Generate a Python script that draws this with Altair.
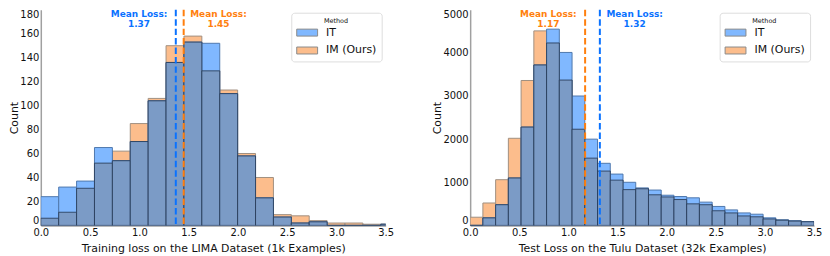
import altair as alt
import pandas as pd

# ---------------- data ----------------
METHODS = ["IT", "IM (Ours)"]
X_TICKS = [0.0, 0.5, 1.0, 1.5, 2.0, 2.5, 3.0, 3.5]

LEFT_BIN_WIDTH = 0.1816
LEFT_IT = [24, 32, 37, 65, 54, 70, 104, 136, 153, 152, 110, 58, 23, 7, 2, 3, 0, 0, 0, 1]
LEFT_IM = [6, 11, 31, 52, 62, 85, 106, 150, 158, 129, 113, 60, 40, 9, 8, 4, 2, 2, 1, 1]
LEFT_MEAN_IT = 1.37
LEFT_MEAN_IM = 1.45
LEFT_XTITLE = "Training loss on the LIMA Dataset (1k Examples)"
LEFT_YMAX = 180
LEFT_YTICKS = [0, 20, 40, 60, 80, 100, 120, 140, 160, 180]

RIGHT_BIN_WIDTH = 0.12963
RIGHT_IT = [0, 175, 480, 1100, 2280, 3720, 4550, 4010, 3000, 2000, 1440, 1190, 1000, 870,
            820, 700, 670, 640, 540, 440, 360, 290, 260, 175, 130, 110, 90]
RIGHT_IM = [190, 520, 1060, 2020, 3360, 4510, 4230, 3370, 2230, 1560, 1260, 1050, 830, 850,
            710, 660, 600, 500, 480, 340, 290, 220, 200, 150, 120, 100, 85]
RIGHT_MEAN_IT = 1.32
RIGHT_MEAN_IM = 1.17
RIGHT_XTITLE = "Test Loss on the Tulu Dataset (32k Examples)"
RIGHT_YMAX = 5000
RIGHT_YTICKS = [0, 1000, 2000, 3000, 4000, 5000]

# ---------------- styles ----------------
IT_FILL = "#80b8ff"
IM_FILL = "#fcbd8c"
OVERLAP_FILL = "#7b9bc6"
IT_STROKE = "#4f78ad"
IM_STROKE = "#a08f80"
OVERLAP_STROKE = "#263a56"
IT_LINE = "#0a72ff"
IM_LINE = "#ff7f0e"
FONT = "DejaVu Sans"


def bins_frame(width, it, im):
    starts = [i * width for i in range(len(it))]
    return pd.DataFrame({
        "start": starts,
        "end": [s + width for s in starts],
        "IT": it,
        "IM": im,
        "overlap": [min(a, b) for a, b in zip(it, im)],
    })


def panel(width_bin, it, im, mean_it, mean_im, xtitle, ymax, yticks,
          dx_it, dx_im, legend_x, plot_w):
    df = bins_frame(width_bin, it, im)
    df_im = df.assign(Method="IM (Ours)", count=df["IM"])
    df_it = df.assign(Method="IT", count=df["IT"])

    xscale = alt.Scale(domain=[0, 3.5], nice=False, zero=False)
    xaxis = alt.Axis(values=X_TICKS, format=".1f", title=xtitle, labelFlush=False)
    yscale = alt.Scale(domain=[0, ymax], nice=False)
    yaxis = alt.Axis(values=yticks, title="Count", format="d", labelFlush=True)

    def xenc(field):
        return alt.X(f"{field}:Q", scale=xscale, axis=xaxis)

    def yenc(field):
        return alt.Y(f"{field}:Q", scale=yscale, axis=yaxis)

    color = alt.Color(
        "Method:N",
        scale=alt.Scale(domain=METHODS, range=[IT_FILL, IM_FILL]),
        legend=alt.Legend(
            title="Method", orient="none", legendX=legend_x, legendY=3,
            titleFontSize=6.5, titleFontWeight="normal", titleAnchor="middle",
            titlePadding=1, labelFontSize=11, labelOffset=15, rowPadding=5,
            symbolType="M-1,-0.5H2V0.5H-1Z", symbolSize=196,
            symbolStrokeColor="#8a8a8a", symbolStrokeWidth=1, symbolOpacity=1,
            padding=5, strokeColor="#dddddd", fillColor="white", cornerRadius=3,
            labelFont=FONT, titleFont=FONT, labelColor="#111111", titleColor="#111111",
        ),
    )

    y2 = alt.Y2(datum=0)

    im_bars = alt.Chart(df_im).mark_bar(
        stroke=IM_STROKE, strokeWidth=1, opacity=1, clip=True
    ).encode(x=xenc("start"), x2="end:Q", y=yenc("count"), y2=y2, color=color)

    it_bars = alt.Chart(df_it).mark_bar(
        stroke=IT_STROKE, strokeWidth=1, opacity=1, clip=True
    ).encode(x=xenc("start"), x2="end:Q", y=yenc("count"), y2=y2, color=color)

    ov_bars = alt.Chart(df).mark_bar(
        fill=OVERLAP_FILL, stroke=OVERLAP_STROKE, strokeWidth=1, strokeOpacity=0.85,
        opacity=1, clip=True
    ).encode(x=xenc("start"), x2="end:Q", y=yenc("overlap"), y2=y2)

    layers = [im_bars, it_bars, ov_bars]
    for m, col, dx in [(mean_it, IT_LINE, dx_it), (mean_im, IM_LINE, dx_im)]:
        mdf = pd.DataFrame({"mean": [m], "label": [f"Mean Loss:\n{m:.2f}"]})
        layers.append(
            alt.Chart(mdf).mark_rule(color=col, strokeWidth=2, strokeDash=[6.5, 3])
            .encode(x=xenc("mean"))
        )
        layers.append(
            alt.Chart(mdf).mark_text(
                color=col, fontWeight="bold", fontSize=9, font=FONT, lineBreak="\n",
                lineHeight=10, dx=dx, align="center", baseline="top"
            ).encode(x=xenc("mean"), y=alt.value(0), text="label:N")
        )

    return alt.layer(*layers).properties(width=plot_w, height=217)


left = panel(LEFT_BIN_WIDTH, LEFT_IT, LEFT_IM, LEFT_MEAN_IT, LEFT_MEAN_IM,
             LEFT_XTITLE, LEFT_YMAX, LEFT_YTICKS, -37, 35, 252, 347)
right = panel(RIGHT_BIN_WIDTH, RIGHT_IT, RIGHT_IM, RIGHT_MEAN_IT, RIGHT_MEAN_IM,
              RIGHT_XTITLE, RIGHT_YMAX, RIGHT_YTICKS, 35, -37, 251, 346)

chart = (
    alt.hconcat(left, right, spacing=38)
    .resolve_scale(color="independent")
    .properties(padding={"left": 0, "top": 0, "right": 0, "bottom": 0})
    .configure_view(stroke=None)
    .configure_axis(
        grid=False, ticks=False, domainColor="#a0a0a0", domainWidth=1.5,
        labelFontSize=10, titleFontSize=11, labelFont=FONT, titleFont=FONT,
        labelColor="#111111", titleColor="#111111", titleFontWeight="normal",
        labelPadding=2,
    )
    .configure_axisY(titlePadding=0)
    .configure_axisX(titlePadding=5)
)

chart.save("out.html", embed_options={"renderer": "svg", "actions": False})
